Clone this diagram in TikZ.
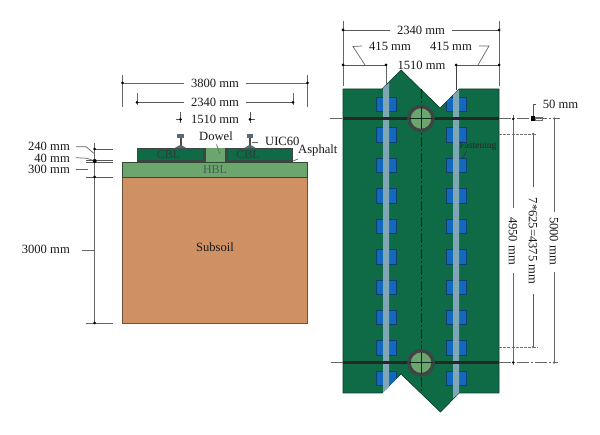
\documentclass[tikz,border=0pt]{standalone}
\usepackage{fontspec}
\setmainfont{Liberation Serif}
\definecolor{slab}{HTML}{0F6A46}
\definecolor{hbl}{HTML}{6DA56F}
\definecolor{soil}{HTML}{CF9163}
\definecolor{padblue}{HTML}{1268BC}
\definecolor{padedge}{HTML}{0F3F6E}
\definecolor{strip}{HTML}{7FA6B4}
\definecolor{ring}{HTML}{3F4444}
\definecolor{dimgray}{HTML}{666666}
\definecolor{lowlabel}{HTML}{2A3F38}
\definecolor{hbllabel}{HTML}{3F5F50}
\tikzset{
  lbl/.style={inner sep=0pt,font=\fontsize{12.6}{13}\selectfont,text=black!90},
  rotlbl/.style={lbl,rotate=-90},
  layerlbl/.style={inner sep=0pt,font=\fontsize{12}{13}\selectfont,text=lowlabel},
  dimline/.style={draw=dimgray,line width=0.9pt},
  thinleader/.style={draw=black!60,line width=0.7pt},
  tick/.style={draw=black!65,line width=0.9pt},
  dashref/.style={draw=black!55,line width=0.7pt,dash pattern=on 3pt off 1.2pt},
  axisline/.style={draw=black!60,line width=0.7pt,dash pattern=on 12pt off 2pt on 2pt off 2pt},
  dimdot/.style={circle,fill=black,inner sep=0pt,minimum size=3pt},
  soildraw/.style={fill=soil,draw=soil!55!black,line width=0.8pt},
  hbldraw/.style={fill=hbl,draw=hbl!45!black,line width=0.8pt},
  slabdraw/.style={fill=slab,draw=slab!60!black,line width=0.7pt},
  paddraw/.style={fill=padblue,draw=padedge,line width=0.7pt},
  stripdraw/.style={fill=strip,draw=none},
}
\newcommand{\drawrail}[1]{%
  \begin{scope}[shift={(#1,148.5)}]
    \fill[strip!65!black] (-3.2,-14) rectangle (3.2,-10);
    \fill[black!70] (-1,-10.5) rectangle (1,-2);
    \fill[strip!65!black] (-6.5,0) -- (-1.5,-3) -- (1.5,-3) -- (6.5,0) -- cycle;
  \end{scope}}
\begin{document}
\begin{tikzpicture}[x=1pt,y=-1pt]
\useasboundingbox[fill=white] (0,0) rectangle (600,435);

% ---------- cross-section ----------
\draw[soildraw] (122.5,177) rectangle (307.5,323);
\draw[hbldraw] (122.5,162) rectangle (307.5,177);
\fill[ring] (137,148.5) rectangle (206,162);
\fill[ring] (225,148.5) rectangle (293,162);
\fill[slab] (137.6,149.2) rectangle (203,160);
\fill[slab] (228,149.2) rectangle (292.4,160);
\fill[hbl] (206,148.5) rectangle (225,162.5);
\drawrail{180.5}
\drawrail{250}
\node[layerlbl] (cblA) at (168.5,155) {CBL};
\node[layerlbl] (cblB) at (248,155) {CBL};
\node[layerlbl,text=hbllabel] (hblT) at (215,170) {HBL};
\node[lbl] (subsoil) at (215,247) {Subsoil};

\coordinate (dowelP) at (220,154);
\coordinate (railP) at (252,142);
\coordinate (asphP) at (293,161);
\node[lbl] (dowel) at (216,136) {Dowel};
\node[lbl,anchor=west] (uic) at (265,141) {UIC60};
\node[lbl,anchor=west] (asph) at (298,150.5) {Asphalt};
\draw[thinleader] (216.5,144.5) -- (dowelP);
\draw[thinleader] (258,142) -- (railP);
\draw[thinleader] (298,159) -- (asphP);

% top dimensions left
\node[lbl] (d3800) at (215,83) {3800 mm};
\node[lbl] (d2340a) at (215,102) {2340 mm};
\node[lbl] (d1510a) at (215,119.5) {1510 mm};
\coordinate (a1) at (122.5,83); \coordinate (a2) at (307.5,83);
\coordinate (b1) at (137,102.3); \coordinate (b2) at (293,102.3);
\draw[dimline] (122.5,75) -- (122.5,107);
\draw[dimline] (307.5,75) -- (307.5,107);
\draw[dimline] (137,93) -- (137,105);
\draw[dimline] (293,93) -- (293,105);
\draw[dimline] (a1) -- (184,83);
\draw[dimline] (246,83) -- (a2);
\draw[tick] (b1) -- (184,102.3);
\draw[tick] (246,102.3) -- (b2);
\node[dimdot] at (a1) {}; \node[dimdot] at (a2) {};
\node[dimdot] at (b1) {}; \node[dimdot] at (b2) {};
\coordinate (c1) at (180.5,119.5); \coordinate (c2) at (250,119.5);
\draw[tick] (180.5,112) -- (180.5,123);
\draw[tick] (250,112) -- (250,123);
\draw[tick] (175.5,119.5) -- (c1);
\draw[tick] (c2) -- (255,119.5);
\node[dimdot] at (c1) {}; \node[dimdot] at (c2) {};

% left dimensions
\node[lbl,anchor=east] (d240) at (70,146.2) {240 mm};
\node[lbl,anchor=east] (d40) at (70,158) {40 mm};
\node[lbl,anchor=east] (d300) at (70,169.5) {300 mm};
\node[lbl,anchor=east] (d3000) at (70,249.5) {3000 mm};
\draw[dimline] (94.7,143) -- (94.7,323);
\draw[tick] (94.7,149) -- (113,149);
\draw[tick] (86,160) -- (113,160);
\draw[tick] (86,162.5) -- (113,162.5);
\draw[tick] (86,177) -- (113,177);
\draw[dimline] (86,323) -- (113,323);
\draw[thinleader] (76,146.7) -- (86,146.7) -- (94.7,154);
\draw[thinleader] (76,157.7) -- (87,158.3) -- (94.7,161);
\draw[thinleader] (76,169) -- (88,169);
\draw[thinleader] (82,250) -- (94.7,250);
\node[dimdot] at (94.7,149) {};
\node[dimdot,minimum size=4pt] at (94.7,161) {};
\node[dimdot] at (94.7,177) {};
\node[dimdot] at (94.7,323) {};

% ---------- plan view ----------
\draw[slabdraw] (343,89) -- (382,89) -- (401,70) -- (440,108) -- (459,89) -- (499,89)
  -- (499,393) -- (459,393) -- (440.5,412) -- (401,374) -- (382,393) -- (343,393) -- cycle;
\begin{scope}
  \clip (343,89) -- (382,89) -- (401,70) -- (440,108) -- (459,89) -- (499,89)
    -- (499,393) -- (459,393) -- (440.5,412) -- (401,374) -- (382,393) -- (343,393) -- cycle;
  \foreach \y in {97,127.5,158,188.5,219,249.5,280,310,340.5,371}{
    \draw[paddraw] (376,\y) rectangle (396,\y+14.5);
    \draw[paddraw] (446,\y) rectangle (466,\y+14.5);
  }
\end{scope}
\fill[stripdraw] (383,88) -- (389,83) -- (389,387) -- (383,392.5) -- cycle;
\fill[stripdraw] (453,95) -- (459,89.5) -- (459,393) -- (453,398.5) -- cycle;
\draw[slab!40!black,line width=0.9pt,dash pattern=on 10pt off 2pt on 2pt off 2pt] (421,89) -- (421,393);
\draw[axisline] (330,118.5) -- (343,118.5);
\draw[axisline] (499,118.5) -- (560,118.5);
\draw[axisline] (331,362.7) -- (343,362.7);
\draw[axisline] (499,362.7) -- (558,362.7);
\draw[black!85,line width=2.4pt] (343,118.5) -- (499,118.5);
\draw[black!85,line width=2.4pt] (343,362.7) -- (499,362.7);
\foreach \n/\y in {dowelA/118.5,dowelB/362.7}{
  \node[circle,draw=ring,line width=3.4pt,fill=hbl,minimum size=24pt,inner sep=0pt] (\n) at (421,\y) {};
  \draw[slab!40!black,line width=0.7pt] (409,\y) -- (433,\y);
  \draw[slab!40!black,line width=0.7pt] (421,\y-11) -- (421,\y+11);
}
\node[font=\fontsize{9.4}{10}\selectfont,text=black!85,inner sep=0pt] (fast) at (478,146) {Fastening};
\coordinate (fastP) at (463,158);
\draw[black!80,line width=0.6pt] (466.7,150.5) -- (fastP);

% top dimensions right
\node[lbl] (d2340b) at (421,30) {2340 mm};
\node[lbl] (d415a) at (390,46) {415 mm};
\node[lbl] (d415b) at (451,46) {415 mm};
\node[lbl] (d1510b) at (421.5,65) {1510 mm};
\coordinate (e1) at (343,30); \coordinate (e2) at (499,30);
\coordinate (f1) at (343,65); \coordinate (f2) at (386,65);
\coordinate (f3) at (456,65); \coordinate (f4) at (499,65);
\draw[dimline] (343,21) -- (343,86);
\draw[dimline] (499,21) -- (499,86);
\draw[tick] (e1) -- (390,30);
\draw[tick] (452,30) -- (e2);
\draw[tick] (f1) -- (f2);
\draw[tick] (f3) -- (f4);
\draw[dimline] (f2) -- (386,84);
\draw[black!75,line width=0.8pt] (f3) -- (456,90);
\draw[thinleader] (362,46) -- (353,46.5) -- (365,65);
\draw[thinleader] (479,46) -- (489,46) -- (478,65);
\node[dimdot] at (e1) {}; \node[dimdot] at (e2) {};
\node[dimdot] at (f1) {}; \node[dimdot] at (f2) {};
\node[dimdot] at (f3) {}; \node[dimdot] at (f4) {};

% right dimensions
\node[lbl] (d50) at (560.5,104) {50 mm};
\node[rotlbl] (d4950) at (513,241) {4950 mm};
\node[rotlbl] (d4375) at (533,241) {7*625=4375 mm};
\node[rotlbl] (d5000) at (554,241) {5000 mm};
\draw[dashref] (499,134) -- (536,134);
\draw[dashref] (499,347) -- (538,347);
\draw[dimline] (513,115) -- (513,208);
\draw[dimline] (513,273) -- (513,365);
\draw[tick] (533,134) -- (533,187);
\draw[tick] (533,294) -- (533,347);
\draw[dimline] (554,118.5) -- (554,212);
\draw[dimline] (554,272) -- (554,363);
\draw[tick] (533,118.5) -- (533,104) -- (535.5,104);
\draw[black!55,line width=0.7pt] (535,117) rectangle (542,120);
\fill[black] (531,116) rectangle (535,121);
\node[dimdot,minimum size=2.5pt] at (513,119) {};
\node[dimdot,minimum size=2.5pt] at (513,362.5) {};
\node[dimdot,minimum size=2.5pt,fill=black!60] at (533,134) {};
\node[dimdot,minimum size=2.5pt,fill=black!60] at (533,347) {};
\node[dimdot,minimum size=2.5pt,fill=black!60] at (554,118.5) {};
\node[dimdot,minimum size=2.5pt,fill=black!60] at (554,362.7) {};
\end{tikzpicture}
\end{document}
